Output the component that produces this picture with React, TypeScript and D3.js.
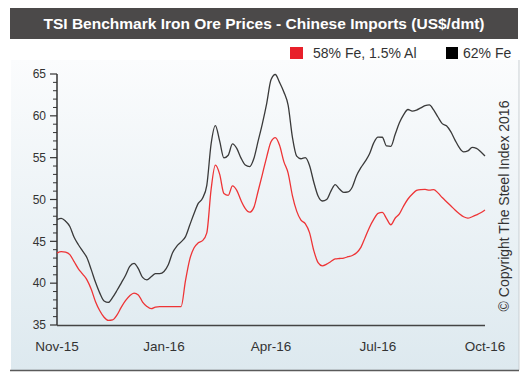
import React from "react";
import * as d3 from "d3";

const chartTitle = "TSI Benchmark Iron Ore Prices - Chinese Imports (US$/dmt)";
const seriesNames = ["58% Fe, 1.5% Al", "62% Fe"];
const periodLabels = ["Nov-15", "Jan-16", "Apr-16", "Jul-16", "Oct-16"];
const periodIndex = [0, 25, 50, 75, 100];
const yMajorTicks = [35, 40, 45, 50, 55, 60, 65];
const copyrightText = "\u00A9 Copyright The Steel Index 2016";

const fe62 = [
  47.6, 47.75, 47.41, 46.78, 45.48, 44.59, 43.82, 43.04, 41.62, 40.1,
  38.81, 37.87, 37.7, 38.3, 39.12, 40.01, 40.92, 42.0, 42.36, 41.73,
  40.69, 40.4, 40.76, 41.14, 41.15, 41.4, 42.2, 43.64, 44.43, 44.94,
  45.53, 46.92, 48.3, 49.53, 50.15, 51.7, 56.62, 58.83, 57.0, 54.97,
  55.29, 56.64, 56.11, 54.95, 54.12, 53.93, 54.9, 57.0, 59.11, 61.5,
  64.3, 64.94, 64.0, 62.86, 61.27, 57.45, 55.18, 54.87, 55.0, 54.07,
  52.06, 50.41, 49.82, 50.0, 51.0, 51.78, 51.25, 50.84, 50.9, 51.5,
  52.87, 53.8, 54.55, 55.43, 56.77, 57.45, 57.44, 56.4, 56.36, 57.76,
  59.16, 60.15, 60.76, 60.56, 60.69, 60.95, 61.21, 61.31, 60.71, 59.86,
  59.07, 58.81, 58.11, 57.1, 56.2, 55.7, 55.81, 56.22, 56.11, 55.71,
  55.2,
];

const fe58 = [
  43.6, 43.77, 43.7, 43.41, 42.58, 41.72, 41.08, 40.4, 39.27, 37.78,
  36.7, 35.93, 35.55, 35.61, 36.18, 37.1, 37.9, 38.5, 38.81, 38.6,
  37.74, 37.22, 36.95, 37.14, 37.2, 37.2, 37.2, 37.2, 37.2, 37.2,
  40.24, 42.82, 44.2, 44.82, 45.08, 46.02, 51.19, 54.1, 53.03, 50.72,
  50.5, 51.63, 51.09, 49.87, 48.91, 48.48, 49.06, 51.02, 53.04, 55.1,
  56.9, 57.4, 56.48, 54.53, 53.16, 50.47, 48.61, 47.53, 47.12, 46.04,
  43.89, 42.46, 42.07, 42.27, 42.59, 42.9, 42.95, 43.0, 43.16, 43.31,
  43.64, 44.28, 45.46, 46.66, 47.62, 48.35, 48.45, 47.72, 46.98, 47.76,
  48.28, 49.24, 50.06, 50.63, 51.08, 51.19, 51.21, 51.11, 51.17, 50.79,
  50.24, 49.74, 49.25, 48.75, 48.31, 47.94, 47.77, 47.94, 48.16, 48.41,
  48.75,
];

const FONT = "'Liberation Sans', Arial, Helvetica, sans-serif";

export default function App() {
  const W = 528;
  const H = 377;
  const x = d3.scaleLinear().domain([0, fe62.length - 1]).range([57, 485]);
  const y = d3.scaleLinear().domain([35, 65]).range([325, 74]);
  const line = d3
    .line<number>()
    .x((_, i) => x(i))
    .y((d) => y(d))
    .curve(d3.curveMonotoneX);
  const minorTicks = d3.range(35, 66, 1).filter((v) => v % 5 !== 0);

  return (
    <svg
      width={W}
      height={H}
      style={{ position: "absolute", left: 0, top: 0, background: "#fff" }}
      fontFamily={FONT}
    >
      <defs>
        <linearGradient id="panelGrad" x1="0" y1="0" x2="0" y2="1">
          <stop offset="0" stopColor="#fbfcfd" />
          <stop offset="1" stopColor="#dde9ef" />
        </linearGradient>
      </defs>
      <rect x={0} y={0} width={W} height={H} fill="#fff" />
      {/* panel */}
      <rect x={11} y={60} width={508} height={310} fill="url(#panelGrad)" />
      <line x1={519} y1={60} x2={519} y2={370} stroke="#c9cfd3" strokeWidth={1} />
      <line x1={10} y1={370.5} x2={519} y2={370.5} stroke="#5a5a5a" strokeWidth={1.5} />

      {/* title bar */}
      <rect x={10} y={8} width={508} height={31} fill="#4b4949" />
      <text
        x={264}
        y={29}
        textAnchor="middle"
        fill="#fff"
        fontWeight="bold"
        fontSize={15.5}
      >
        {chartTitle}
      </text>

      {/* legend */}
      <rect x={290} y={47} width={13} height={12} fill="#e8202a" />
      <text x={313} y={58} fontSize={14} fill="#333">
        {seriesNames[0]}
      </text>
      <rect x={446} y={47} width={12} height={12} fill="#000" />
      <text x={463} y={58} fontSize={14} fill="#333">
        {seriesNames[1]}
      </text>

      {/* y axis */}
      <line x1={57} y1={y(65)} x2={57} y2={y(35)} stroke="#333" strokeWidth={1.5} />
      {minorTicks.map((v) => (
        <line key={"m" + v} x1={53} x2={57} y1={y(v)} y2={y(v)} stroke="#333" strokeWidth={1} />
      ))}
      {yMajorTicks.map((v) => (
        <g key={"M" + v}>
          <line x1={50} x2={57} y1={y(v)} y2={y(v)} stroke="#333" strokeWidth={1.2} />
          <text x={46} y={y(v) + 4.3} textAnchor="end" fontSize={12} fill="#333">
            {v}
          </text>
        </g>
      ))}

      {/* x axis */}
      <line x1={57} y1={325.5} x2={485} y2={325.5} stroke="#444" strokeWidth={1.5} />
      {periodLabels.map((lab, i) => (
        <text
          key={lab}
          x={x(periodIndex[i])}
          y={351}
          textAnchor="middle"
          fontSize={13.5}
          fill="#333"
        >
          {lab}
        </text>
      ))}

      {/* series */}
      <path d={line(fe62) || ""} fill="none" stroke="#3a3a3a" strokeWidth={1.3} />
      <path d={line(fe58) || ""} fill="none" stroke="#ee3436" strokeWidth={1.3} />

      {/* copyright */}
      <text
        transform="translate(509,206) rotate(-90)"
        textAnchor="middle"
        fontSize={14}
        fill="#333"
      >
        {copyrightText}
      </text>
    </svg>
  );
}
